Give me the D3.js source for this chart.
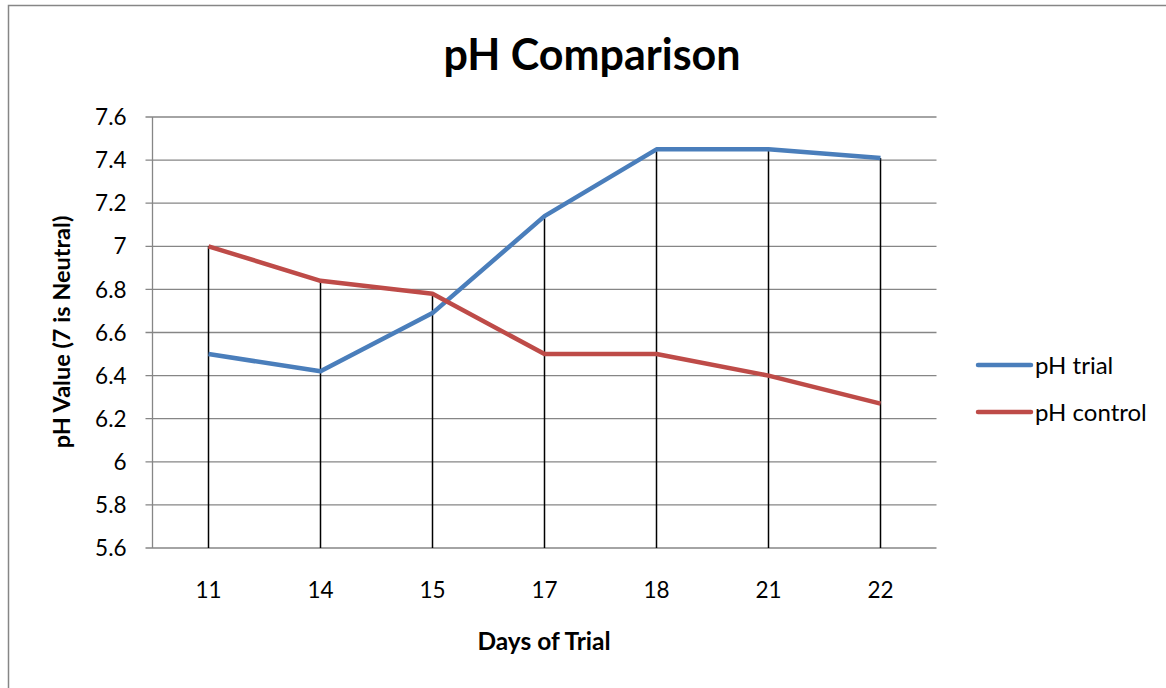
<!DOCTYPE html>
<html>
<meta charset='utf-8'>
<style>
  body { margin: 0; background: #fff; }
  svg { display: block; font-family: Lato, 'Open Sans', sans-serif; }
</style>
<body>
<svg id='chart' width='1166' height='688'></svg>
<script src='https://cdn.jsdelivr.net/npm/d3@7'></script>
<script>
  // data
  const days = ['11', '14', '15', '17', '18', '21', '22']
  const phTrial = [6.5, 6.42, 6.69, 7.14, 7.45, 7.45, 7.41]
  const phControl = [7.0, 6.84, 6.78, 6.5, 6.5, 6.4, 6.27]
  const yTicks = [5.6, 5.8, 6, 6.2, 6.4, 6.6, 6.8, 7, 7.2, 7.4, 7.6]
  const seriesNames = ['pH trial', 'pH control']
  const seriesColors = ['#4a7ebb', '#be4b48']

  const svg = d3.select('#chart')

  // outer chart frame
  svg.append('rect')
    .attr('x', 8.5).attr('y', 5.5)
    .attr('width', 1200).attr('height', 720)
    .attr('fill', 'none').attr('stroke', '#868686').attr('stroke-width', 1.5)

  const plotL = 152.5, plotR = 936.5, plotT = 117, plotB = 548

  const x = d3.scaleBand().domain(days).range([plotL, plotR])
  const y = d3.scaleLinear().domain([5.6, 7.6]).range([plotB, plotT])

  // horizontal gridlines
  svg.append('g')
    .selectAll('line')
    .data(yTicks)
    .join('line')
    .attr('x1', plotL - 7).attr('x2', plotR)
    .attr('y1', d => y(d)).attr('y2', d => y(d))
    .attr('stroke', '#868686').attr('stroke-width', 1.3)

  // y axis line
  svg.append('line')
    .attr('x1', plotL).attr('x2', plotL)
    .attr('y1', plotT).attr('y2', plotB)
    .attr('stroke', '#868686').attr('stroke-width', 1.3)

  // y tick labels
  svg.append('g')
    .selectAll('text')
    .data(yTicks)
    .join('text')
    .attr('x', plotL - 26).attr('y', d => y(d))
    .attr('dy', '0.36em')
    .attr('text-anchor', 'end')
    .attr('font-size', 22.5)
    .text(d => d3.format('')(d))

  // x tick labels
  svg.append('g')
    .selectAll('text')
    .data(days)
    .join('text')
    .attr('x', d => x(d) + x.bandwidth() / 2).attr('y', 590)
    .attr('dy', '0.36em')
    .attr('text-anchor', 'middle')
    .attr('font-size', 22.5)
    .text(d => d)

  // drop lines from the highest point down to the axis
  svg.append('g')
    .selectAll('line')
    .data(days)
    .join('line')
    .attr('x1', d => x(d) + x.bandwidth() / 2).attr('x2', d => x(d) + x.bandwidth() / 2)
    .attr('y1', (d, i) => y(Math.max(phTrial[i], phControl[i])))
    .attr('y2', plotB)
    .attr('stroke', '#000').attr('stroke-width', 1.5)

  // series lines
  const line = d3.line()
    .x((d, i) => x(days[i]) + x.bandwidth() / 2)
    .y(d => y(d))

  ;[phTrial, phControl].forEach((vals, k) => {
    svg.append('path')
      .attr('d', line(vals))
      .attr('fill', 'none')
      .attr('stroke', seriesColors[k])
      .attr('stroke-width', 4.5)
      .attr('stroke-linejoin', 'round')
  })

  // title
  svg.append('text')
    .attr('x', 592).attr('y', 70)
    .attr('text-anchor', 'middle')
    .attr('font-size', 43).attr('font-weight', 'bold')
    .text('pH Comparison')

  // axis titles
  svg.append('text')
    .attr('x', 544).attr('y', 650)
    .attr('text-anchor', 'middle')
    .attr('font-size', 24.5).attr('font-weight', 'bold')
    .text('Days of Trial')

  svg.append('text')
    .attr('transform', 'translate(70,332) rotate(-90)')
    .attr('text-anchor', 'middle')
    .attr('font-size', 23.5).attr('font-weight', 'bold')
    .text('pH Value (7 is Neutral)')

  // legend
  const legend = svg.append('g')
    .selectAll('g')
    .data(seriesNames)
    .join('g')
    .attr('transform', (d, i) => `translate(978,${365 + i * 47})`)

  legend.append('line')
    .attr('x1', 0).attr('x2', 53)
    .attr('stroke', (d, i) => seriesColors[i])
    .attr('stroke-width', 4.5).attr('stroke-linecap', 'round')

  legend.append('text')
    .attr('x', 57).attr('dy', '0.36em')
    .attr('font-size', 24)
    .text(d => d)
</script>
</body>
</html>
